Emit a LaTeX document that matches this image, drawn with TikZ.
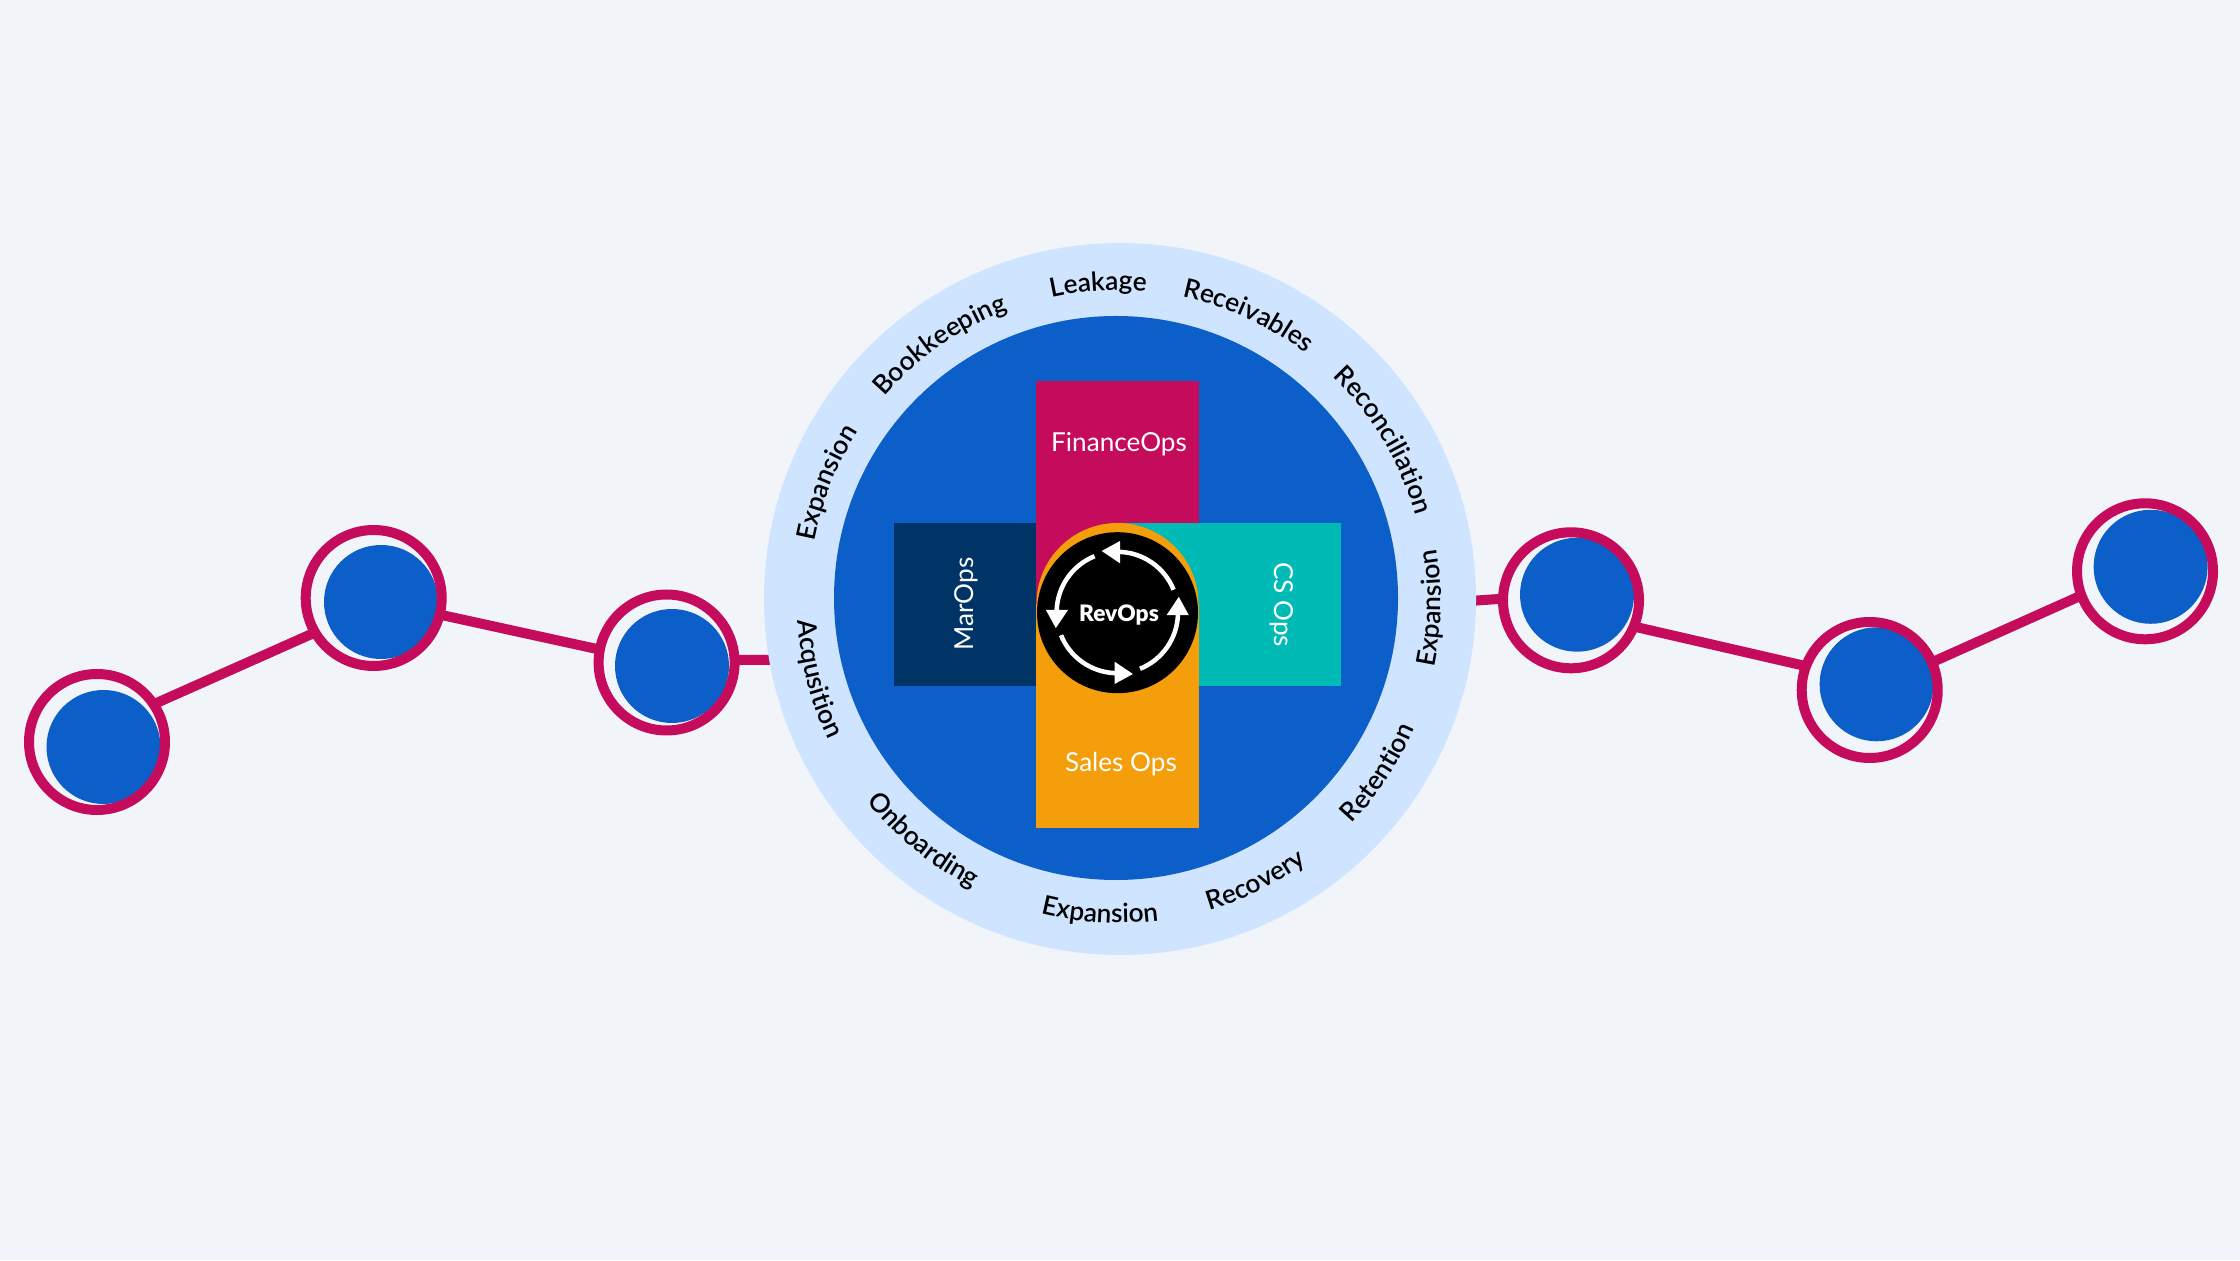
\documentclass[tikz,border=0pt]{standalone}
\usepackage{fontspec}
\usetikzlibrary{decorations.text}
\setmainfont{Lato}
\newfontfamily\arcfamily{Lato}[UprightFont={* Semibold}]
\newfontfamily\revfamily{Lato}[UprightFont={* Black}]
\definecolor{bgc}{HTML}{F1F5FA}
\definecolor{halo}{HTML}{CFE4FF}
\definecolor{bluec}{HTML}{0C5EC8}
\definecolor{crimson}{HTML}{C50B5C}
\definecolor{navyc}{HTML}{003366}
\definecolor{tealc}{HTML}{00BAB6}
\definecolor{orangec}{HTML}{F49E0B}
\tikzset{
  disk/.style={circle,fill=bluec,minimum size=85.5pt,inner sep=0pt,outer sep=0pt},
  ring/.style={circle,draw=crimson,line width=7.5pt,minimum size=102pt,inner sep=0pt},
  wire/.style={draw=crimson,line width=7.5pt,shorten <=-2pt,shorten >=-2pt},
  opslabel/.style={text=white,font=\fontsize{19.6}{23}\selectfont,anchor=base,inner sep=0pt},
}
\newcommand{\arcfont}{\arcfamily\fontsize{19.7}{23}\selectfont}
\newcommand{\toplabel}[2]{\path[decorate,decoration={text along path,text align=center,text={|\arcfont|#1}}] (1118,661)+(#2+40:231.75pt) arc[start angle=#2+40,end angle=#2-40,radius=231.75pt];}
\newcommand{\lowlabel}[2]{\path[decorate,decoration={text along path,text align=center,text={|\arcfont|#1}}] (1119,659)+(#2-40:241.5pt) arc[start angle=#2-40,end angle=#2+40,radius=241.5pt];}
\begin{document}
\begin{tikzpicture}[x=0.75pt,y=0.75pt]
\useasboundingbox (0,0) rectangle (2240,1260);
\fill[bgc] (0,0) rectangle (2240,1260);
% satellite nodes
\node[disk] (b1) at (103.5,513) {};
\node[disk] (b2) at (381,658) {};
\node[disk] (b3) at (672,594) {};
\node[disk] (b4) at (1577,665.3) {};
\node[disk] (b5) at (1876.6,575.7) {};
\node[disk] (b6) at (2150.6,693.2) {};
\node[ring] (r1) at (97,518) {};
\node[ring] (r2) at (373.7,662) {};
\node[ring] (r3) at (666.6,597.5) {};
\node[ring] (r4) at (1571,659.7) {};
\node[ring] (r5) at (1869.7,570) {};
\node[ring] (r6) at (2145,688.7) {};
% connectors
\path[wire] (r1.33) -- (r2.210);
\path[wire] (r2.-14) -- (r3.169);
\path[wire] (r4.-22) -- (r5.160);
\path[wire] (r5.24) -- (r6.201.6);
% big circles
\coordinate (bigw) at (775,600);
\coordinate (bige) at (1470,659);
\path[wire] (r3.2) -- (bigw);
\path[wire] (r4.179) -- (bige);
\node[circle,fill=halo,minimum size=534pt,inner sep=0pt,outer sep=0pt] (outer) at (1120,661) {};
\node[circle,fill=bluec,minimum size=423pt,inner sep=0pt,outer sep=0pt] (inner) at (1116,662) {};
% arms
\fill[crimson] (1036,879) rectangle (1199,656);
\fill[navyc] (894,737) rectangle (1036,574);
\fill[tealc] (1117,737) rectangle (1341,574);
\fill[orangec] (1036,656) rectangle (1199,432);
\node[circle,fill=orangec,minimum size=121.5pt,inner sep=0pt,outer sep=0pt] (hub) at (1117.5,656) {};
\node[circle,fill=black,minimum size=120.75pt,inner sep=0pt,outer sep=0pt] (core) at (1117.5,647.3) {};
% cycle arrows
\foreach \a in {0,90,180,270}{
  \begin{scope}[shift={(1117.3,647.5)},rotate=\a]
    \draw[white,line width=3.4pt] (22:60.7) arc[start angle=22,end angle=88,radius=45.5pt];
    \fill[white] (2.7,71.5) -- (-15.6,61.5) -- (2.7,49.2) -- cycle;
  \end{scope}
}
% labels
\node[opslabel] (fin) at (1119,808.5) {FinanceOps};
\node[opslabel] (sal) at (1121,488.5) {Sales Ops};
\node[opslabel,rotate=90] (mar) at (973,656) {MarOps};
\node[opslabel,rotate=-90] (cso) at (1274,655.3) {CS Ops};
\node[text=white,font=\revfamily\fontsize{17}{20}\selectfont,anchor=base,inner sep=0pt] (rev) at (1119,638.5) {RevOps};
% ring labels
\toplabel{Expansion}{158.2}
\toplabel{Bookkeeping}{125}
\toplabel{Leakage}{93.6}
\toplabel{Receivables}{65.3}
\toplabel{Reconciliation}{30.9}
\lowlabel{Expansion}{-1.3}
\lowlabel{Retention}{-33.5}
\lowlabel{Recovery}{-64}
\lowlabel{Expansion}{-93.5}
\lowlabel{Onboarding}{-129.3}
\lowlabel{Acqusition}{-165.5}
\end{tikzpicture}
\end{document}
